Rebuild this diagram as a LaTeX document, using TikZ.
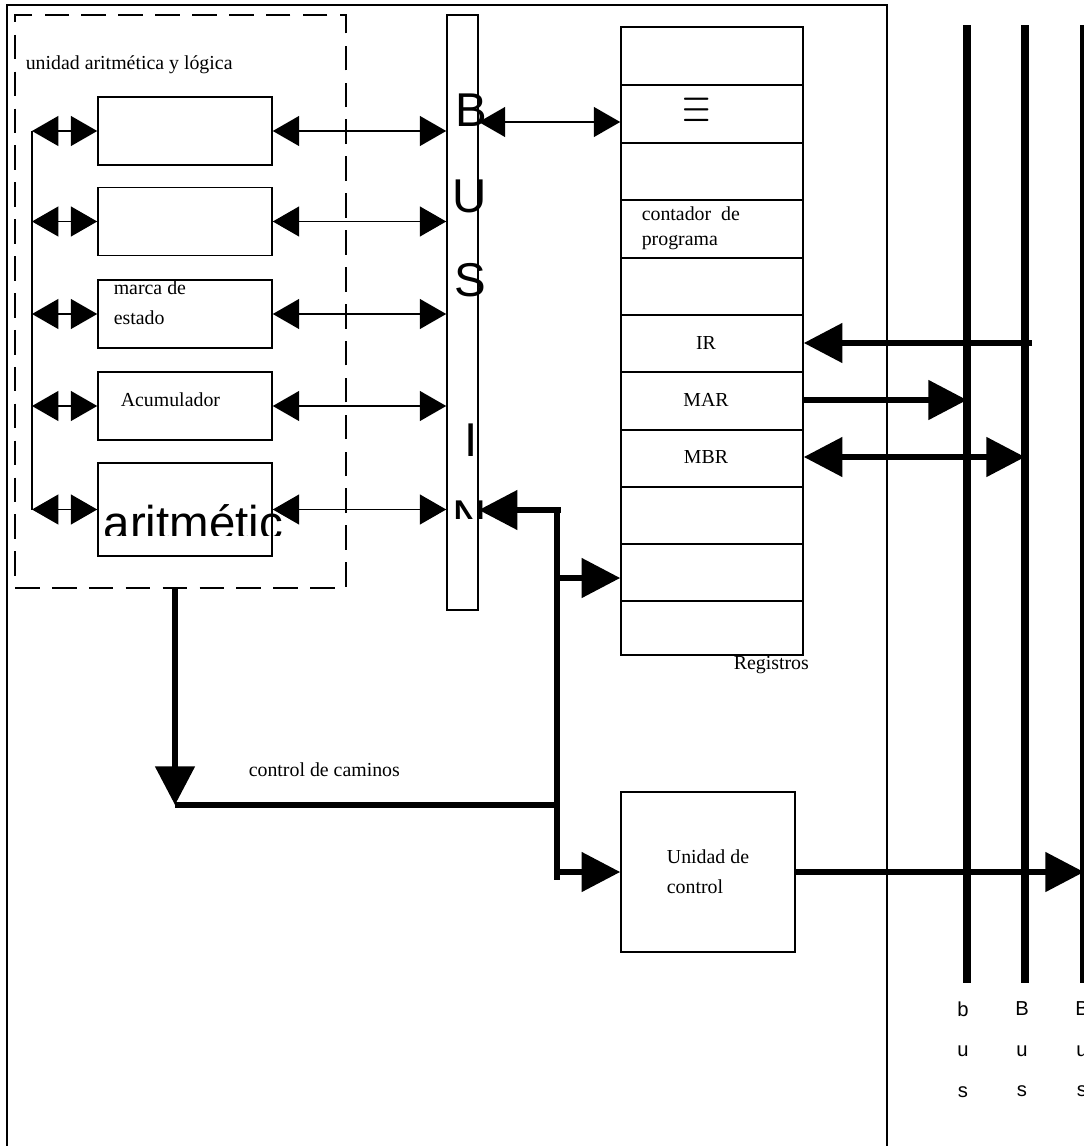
\documentclass[tikz,border=0pt]{standalone}
\usepackage{fontspec}
\setmainfont{Liberation Serif}
\newfontfamily\helv{Liberation Sans}
\usetikzlibrary{arrows.meta,positioning,calc}

\begin{document}
\begin{tikzpicture}[x=0.02cm, y=-0.02cm, line width=0.9pt,
  alubox/.style={draw, minimum width=3.48cm, minimum height=1.36cm, inner sep=0pt},
  lbl/.style={font=\fontsize{11.3}{17}\selectfont, inner sep=0pt, align=left},
  bigletter/.style={font=\helv\fontsize{27}{27}\selectfont, inner sep=0pt},
  thinarr/.style={{Triangle[length=15pt,width=17pt]}-{Triangle[length=15pt,width=17pt]}, line width=0.9pt},
  bigarr/.style={-{Triangle[length=22pt,width=22pt]}, line width=3.4pt},
  bigdarr/.style={{Triangle[length=22pt,width=22pt]}-{Triangle[length=22pt,width=22pt]}, line width=3.4pt},
  bigline/.style={line width=3.4pt},
  busline/.style={line width=4pt},
  buslabel/.style={font=\helv\fontsize{11.5}{23}\selectfont, align=center, inner sep=0pt, anchor=north}
]
  \useasboundingbox (0,0) rectangle (1083,1146);

  % outer frame
  \draw (7,1160) -- (7,5) -- (887,5) -- (887,1160);

  % unidad aritmetica y logica
  \node[draw, dash pattern=on 14pt off 7pt, minimum width=6.62cm, minimum height=11.46cm, inner sep=0pt] (alu) at (180.5,301.5) {};
  \node[lbl, anchor=west] (alutitle) at (25,65) {unidad aritmética y lógica};

  \node[alubox] (acc1) at (185,131) {};
  \node[alubox] (acc2) at (185,221.5) {};
  \node[alubox] (flags) at (185,314) {};
  \node[alubox] (acum) at (185,406) {};
  \node[alubox, minimum height=1.86cm] (arit) at (185,509.5) {};

  \node[lbl, anchor=west] (flagstxt) at (113,303) {marca de\\estado};
  \node[lbl, anchor=west] (acumtxt) at (120,400) {Acumulador};
  \begin{scope}
    \clip (95,460) rectangle (300,535);
    \node[bigletter, anchor=base west] (arittxt) at (103,539) {aritmétic};
  \end{scope}

  % bus interno
  \node[draw, minimum width=0.62cm, minimum height=11.9cm, inner sep=0pt] (bus) at (462.5,312.5) {};
  \node[bigletter] (busB) at (471,110) {B};
  \node[bigletter] (busU) at (470,196) {U};
  \node[bigletter] (busS) at (470,280) {S};
  \node[bigletter] (busI) at (471,440) {I};
  \begin{scope}
    \clip (440,490) rectangle (500,518);
    \node[bigletter] (busN) at (470,517) {N};
  \end{scope}

  % ALU connections
  \coordinate (spine) at (32,130);
  \draw (spine |- acc1.west) -- (spine |- arit.west);
  \foreach \b in {acc1,acc2,flags,acum,arit} {
    \draw[thinarr] (spine |- \b.west) -- (\b.west);
    \draw[thinarr] (\b.east) -- (\b.east -| bus.west);
  }

  % registros
  \node[draw, minimum width=3.64cm, minimum height=12.56cm, inner sep=0pt] (regs) at (712,341) {};
  \foreach \y in {85,143,200,258,315,372,430,487,544,601}
    \draw (regs.west |- 0,\y) -- (regs.east |- 0,\y);
  \node[font=\fontsize{20}{20}\selectfont, inner sep=0pt] (eqv) at (697,111) {\scalebox{1}[1.5]{$\equiv$}};
  \node[lbl, font=\fontsize{11.3}{14}\selectfont, anchor=west] (pc) at (641,228) {contador\ \ de\\programa};
  \node[lbl] (ir) at (706,343) {IR};
  \node[lbl] (mar) at (706,400) {MAR};
  \node[lbl] (mbr) at (706,457) {MBR};
  \node[lbl, anchor=west] (regtitle) at (733,665) {Registros};

  \draw[thinarr] (bus.east |- 0,122) -- (regs.west |- 0,122);

  % unidad de control
  \node[draw, minimum width=3.48cm, minimum height=3.2cm, font=\fontsize{11.3}{17}\selectfont, align=left] (ctrl) at (708,872) {Unidad de\\control};

  % control de caminos
  \coordinate (cdown) at (175,805);
  \coordinate (cjoin) at (557,805);
  \coordinate (ctop) at (557,510);
  \coordinate (cbot) at (557,880);
  \draw[bigarr] (alu.south -| cdown) -- (cdown);
  \draw[bigline] (cdown) -- (cjoin);
  \draw[bigline] (ctop) -- (cbot);
  \draw[bigarr] ([xshift=2pt]ctop) -- (ctop -| bus.east);
  \draw[bigarr] (cjoin |- 0,578) -- (regs.west |- 0,578);
  \draw[bigarr] (cjoin |- ctrl.west) -- (ctrl.west);
  \node[lbl, anchor=west] (pathlbl) at (248,770) {control de caminos};

  % buses del sistema
  \coordinate (busAtop) at (967,25);
  \coordinate (busAbot) at (967,983);
  \coordinate (busBtop) at (1025,25);
  \coordinate (busBbot) at (1025,983);
  \coordinate (busCtop) at (1084,25);
  \coordinate (busCbot) at (1084,983);
  \draw[busline] (busAtop) -- (busAbot);
  \draw[busline] (busBtop) -- (busBbot);
  \draw[busline] (busCtop) -- (busCbot);

  \draw[bigarr] ([xshift=4pt]busBtop |- ir) -- (regs.east |- ir);
  \draw[bigarr] (regs.east |- mar) -- (busAtop |- mar);
  \draw[bigdarr] (regs.east |- mbr) -- (busBtop |- mbr);
  \draw[bigarr] (ctrl.east) -- (ctrl.east -| busCtop);

  \node[buslabel] (lblA) at (963,1001) {b\\u\\s};
  \node[buslabel] (lblB) at (1022,1001) {B\\u\\s};
  \node[buslabel] (lblC) at (1082,1001) {B\\u\\s};
\end{tikzpicture}
\end{document}
